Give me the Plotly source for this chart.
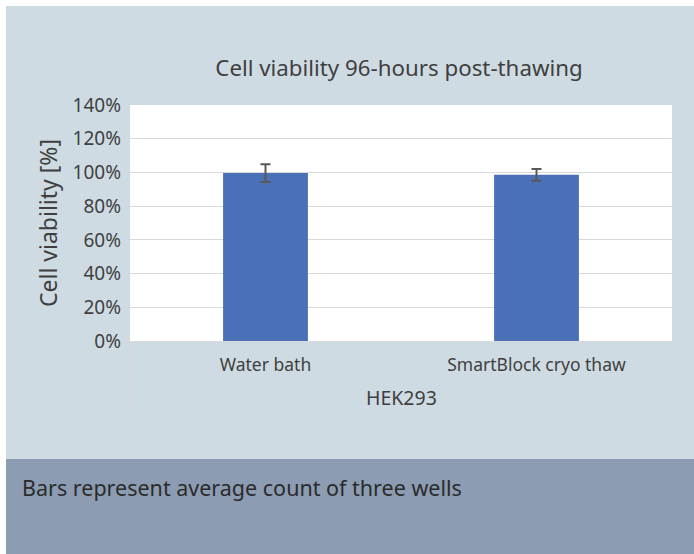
import plotly.graph_objects as go

# Data
group_label = "HEK293"
methods = ["Water bath", "SmartBlock cryo thaw"]
viability = [0.996, 0.986]
viability_err = [0.053, 0.035]
y_ticks = [0, 0.2, 0.4, 0.6, 0.8, 1.0, 1.2, 1.4]
y_tick_labels = ["0%", "20%", "40%", "60%", "80%", "100%", "120%", "140%"]

W, H = 694, 554
L, R, T, B = 130, 22, 105, 213
pw, ph = W - L - R, H - T - B

def px_x(x):
    return (x - L) / pw

def px_y(y):
    return (H - B - y) / ph

FONT = "Noto Sans"
TXT = "#3f3f3f"

fig = go.Figure()
fig.add_trace(go.Bar(
    x=methods,
    y=viability,
    marker=dict(color="#4a70b7", line=dict(width=0)),
    error_y=dict(type="data", array=viability_err, visible=True,
                 color="#595959", thickness=2, width=5),
    width=0.313,
))

fig.update_layout(
    width=W, height=H,
    margin=dict(l=L, r=R, t=T, b=B, autoexpand=False),
    paper_bgcolor="white",
    plot_bgcolor="white",
    showlegend=False,
    font=dict(family=FONT, color=TXT),
    title=dict(text="Cell viability 96-hours post-thawing",
               x=px_x(399), xanchor="center", xref="paper",
               y=1 - 68 / H, yanchor="middle",
               font=dict(size=22.3, color=TXT, family=FONT)),
    xaxis=dict(showline=True, linecolor="#d9d9d9", linewidth=1,
               showgrid=False, ticks="", tickfont=dict(size=17.5, color=TXT),
               ticklabelstandoff=8),
    yaxis=dict(range=[0, 1.4], tickvals=y_ticks, ticktext=y_tick_labels,
               showgrid=True, gridcolor="#d9d9d9", gridwidth=1,
               zeroline=False, showline=False, ticks="",
               tickfont=dict(size=19, color=TXT), ticklabelstandoff=8,
               title=dict(text="Cell viability [%]", font=dict(size=23, color=TXT), standoff=8)),
    shapes=[
        dict(type="rect", xref="paper", yref="paper", layer="below",
             x0=px_x(6), x1=px_x(700), y0=px_y(459), y1=px_y(6),
             fillcolor="#cfdbe3", line=dict(width=0)),
        dict(type="rect", xref="paper", yref="paper", layer="below",
             x0=px_x(6), x1=px_x(700), y0=px_y(560), y1=px_y(459),
             fillcolor="#8b9cb3", line=dict(width=0)),
        dict(type="rect", xref="paper", yref="paper", layer="below",
             x0=0, x1=1, y0=0, y1=1,
             fillcolor="white", line=dict(width=0)),
        dict(type="line", xref="paper", yref="paper", layer="above",
             x0=0, x1=0, y0=0, y1=px_y(412), line=dict(color="#d9d9d9", width=1.5)),
        dict(type="line", xref="paper", yref="paper", layer="above",
             x0=1, x1=1, y0=0, y1=px_y(412), line=dict(color="#d9d9d9", width=1.5)),
    ],
    annotations=[
        dict(text=group_label, xref="paper", yref="paper",
             x=0.5, y=px_y(397), xanchor="center", yanchor="middle",
             showarrow=False, font=dict(size=19.5, color=TXT, family=FONT)),
        dict(text="Bars represent average count of three wells",
             xref="paper", yref="paper", x=px_x(20), y=px_y(487),
             xanchor="left", yanchor="middle", showarrow=False,
             font=dict(size=21.5, color="#2b2b2b", family=FONT)),
    ],
)

fig.write_html("out.html",
               config={"displayModeBar": False},
               post_script="document.body.style.margin='0';document.body.style.overflow='hidden';")
